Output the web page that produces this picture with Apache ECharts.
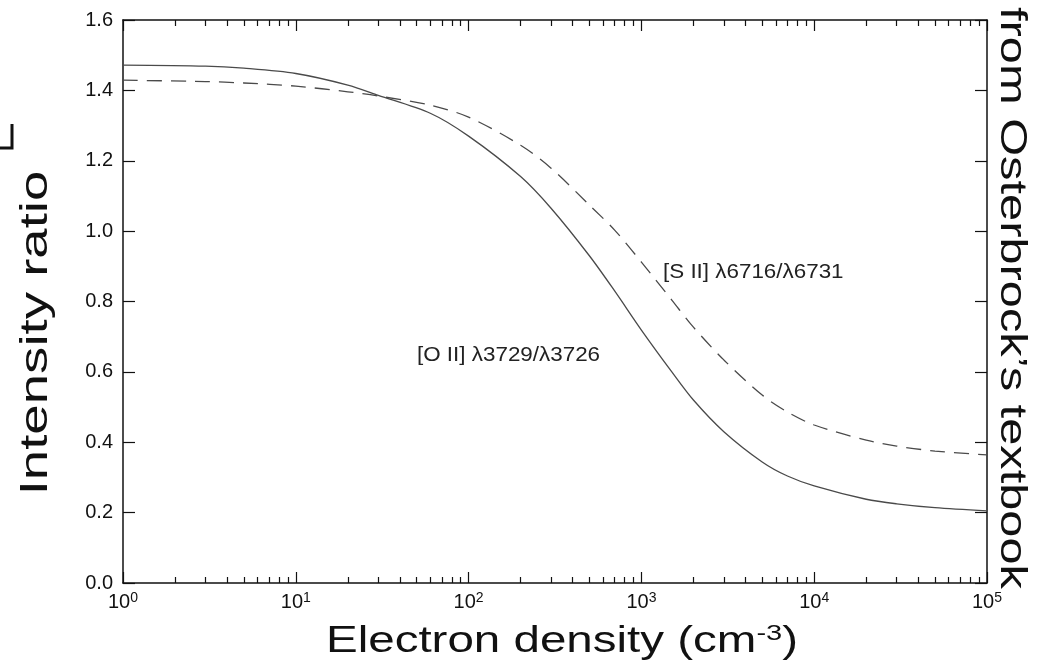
<!DOCTYPE html>
<html>
<head>
<meta charset="utf-8">
<script src="https://cdn.jsdelivr.net/npm/echarts@6/dist/echarts.min.js"></script>
<style>
  html, body { margin: 0; padding: 0; background: #fff; }
  #chart { width: 1050px; height: 670px; }
</style>
</head>
<body>
<div id="chart"></div>
<script>
// electron density (cm^-3)
const densities = [1, 3, 5, 10, 20, 30, 60, 100, 200, 300, 500, 700, 1000, 1500, 2000, 3000, 5000, 7000, 10000, 20000, 30000, 50000, 100000];
// [O II] 3729/3726 (solid)
const oiiRatio = [1.472, 1.469, 1.463, 1.448, 1.415, 1.386, 1.335, 1.27, 1.155, 1.065, 0.93, 0.83, 0.719, 0.60, 0.52, 0.43, 0.344, 0.304, 0.276, 0.238, 0.225, 0.214, 0.205];
// [S II] 6716/6731 (dashed)
const siiRatio = [1.429, 1.425, 1.421, 1.412, 1.396, 1.384, 1.358, 1.324, 1.244, 1.179, 1.074, 1.003, 0.912, 0.804, 0.727, 0.634, 0.534, 0.486, 0.449, 0.406, 0.389, 0.375, 0.364];

const xMajorTicks = [1, 10, 100, 1000, 10000, 100000];
const xMinorTicks = [];
for (let d = 0; d < 5; d++) {
  for (let k = 2; k <= 9; k++) xMinorTicks.push(k * Math.pow(10, d));
}
const yTickStep = 0.2;

const chart = echarts.init(document.getElementById('chart'), null, { renderer: 'canvas' });

const axisColor = '#111';
const lineColor = '#4a4a4a';
const baseFont = 'Liberation Sans, Arial, Helvetica, sans-serif';

function xAxisDef(position, major, showLine) {
  return {
    type: 'log',
    logBase: 10,
    min: 1,
    max: 100000,
    position: position,
    axisLine: { show: showLine, onZero: false, lineStyle: { color: axisColor, width: 1.5 } },
    axisTick: {
      show: true,
      inside: true,
      length: major ? 11 : 6,
      customValues: major ? xMajorTicks : xMinorTicks,
      lineStyle: { color: axisColor, width: 1.2 }
    },
    axisLabel: {
      show: position === 'bottom' && major,
      customValues: xMajorTicks,
      margin: 8,
      color: '#111',
      fontFamily: baseFont,
      fontSize: 20,
      formatter: v => '10{sup|' + Math.round(Math.log10(v)) + '}',
      rich: {
        sup: { fontSize: 14, verticalAlign: 'top', padding: [0, 0, 9, 0], fontFamily: baseFont, color: '#111' }
      }
    },
    splitLine: { show: false },
    minorTick: { show: false }
  };
}

function yAxisDef(position, showLabel) {
  return {
    type: 'value',
    min: 0,
    max: 1.6,
    interval: yTickStep,
    position: position,
    axisLine: { show: true, onZero: false, lineStyle: { color: axisColor, width: 1.5 } },
    axisTick: { show: true, inside: true, length: 12, lineStyle: { color: axisColor, width: 1.2 } },
    axisLabel: {
      show: showLabel,
      margin: 10,
      color: '#111',
      fontFamily: baseFont,
      fontSize: 20,
      formatter: v => v.toFixed(1)
    },
    splitLine: { show: false }
  };
}

const option = {
  backgroundColor: '#fff',
  animation: false,
  grid: { left: 123, right: 63, top: 20, bottom: 87, containLabel: false },
  xAxis: [
    xAxisDef('bottom', true, true),
    xAxisDef('bottom', false, false),
    xAxisDef('top', true, true),
    xAxisDef('top', false, false)
  ],
  yAxis: [
    yAxisDef('left', true),
    yAxisDef('right', false)
  ],
  series: [
    {
      name: '[O II] λ3729/λ3726',
      type: 'line',
      xAxisIndex: 0,
      yAxisIndex: 0,
      smooth: 0.3,
      showSymbol: false,
      symbol: 'none',
      lineStyle: { color: lineColor, width: 1.3, type: 'solid' },
      data: densities.map((n, i) => [n, oiiRatio[i]])
    },
    {
      name: '[S II] λ6716/λ6731',
      type: 'line',
      xAxisIndex: 0,
      yAxisIndex: 0,
      smooth: 0.3,
      showSymbol: false,
      symbol: 'none',
      lineStyle: { color: lineColor, width: 1.3, type: [15, 9] },
      data: densities.map((n, i) => [n, siiRatio[i]])
    }
  ],
  graphic: [
    // x axis title
    {
      type: 'text',
      x: 562, y: 642,
      scaleX: 1.32,
      style: {
        text: 'Electron density (cm{sup|-3})',
        fontFamily: baseFont, fontSize: 36, fill: '#111',
        align: 'center', verticalAlign: 'middle',
        rich: { sup: { fontSize: 22, verticalAlign: 'top', padding: [0, 0, 16, 0], fill: '#111', fontFamily: baseFont } }
      }
    },
    // y axis title
    {
      type: 'text',
      x: 36, y: 333,
      rotation: Math.PI / 2,
      scaleX: 1.4,
      style: {
        text: 'Intensity ratio',
        fontFamily: baseFont, fontSize: 39, fill: '#111',
        align: 'center', verticalAlign: 'middle'
      }
    },
    // source note on the right
    {
      type: 'text',
      x: 1011, y: 298,
      rotation: -Math.PI / 2,
      scaleX: 1.355,
      style: {
        text: 'from Osterbrock\u2019s textbook',
        fontFamily: baseFont, fontSize: 36, fill: '#111',
        align: 'center', verticalAlign: 'middle'
      }
    },
    // curve labels
    {
      type: 'text',
      x: 663, y: 272,
      scaleX: 1.12,
      style: {
        text: '[S II] λ6716/λ6731',
        fontFamily: baseFont, fontSize: 20, fill: '#222',
        align: 'left', verticalAlign: 'middle'
      }
    },
    {
      type: 'text',
      x: 417, y: 355,
      scaleX: 1.12,
      style: {
        text: '[O II] λ3729/λ3726',
        fontFamily: baseFont, fontSize: 20, fill: '#222',
        align: 'left', verticalAlign: 'middle'
      }
    },
    // cropped bracket mark at the left edge
    {
      type: 'polyline',
      shape: { points: [[0, 148], [12, 148], [12, 124]] },
      style: { stroke: '#111', lineWidth: 3, fill: null }
    }
  ]
};

chart.setOption(option);
</script>
</body>
</html>
